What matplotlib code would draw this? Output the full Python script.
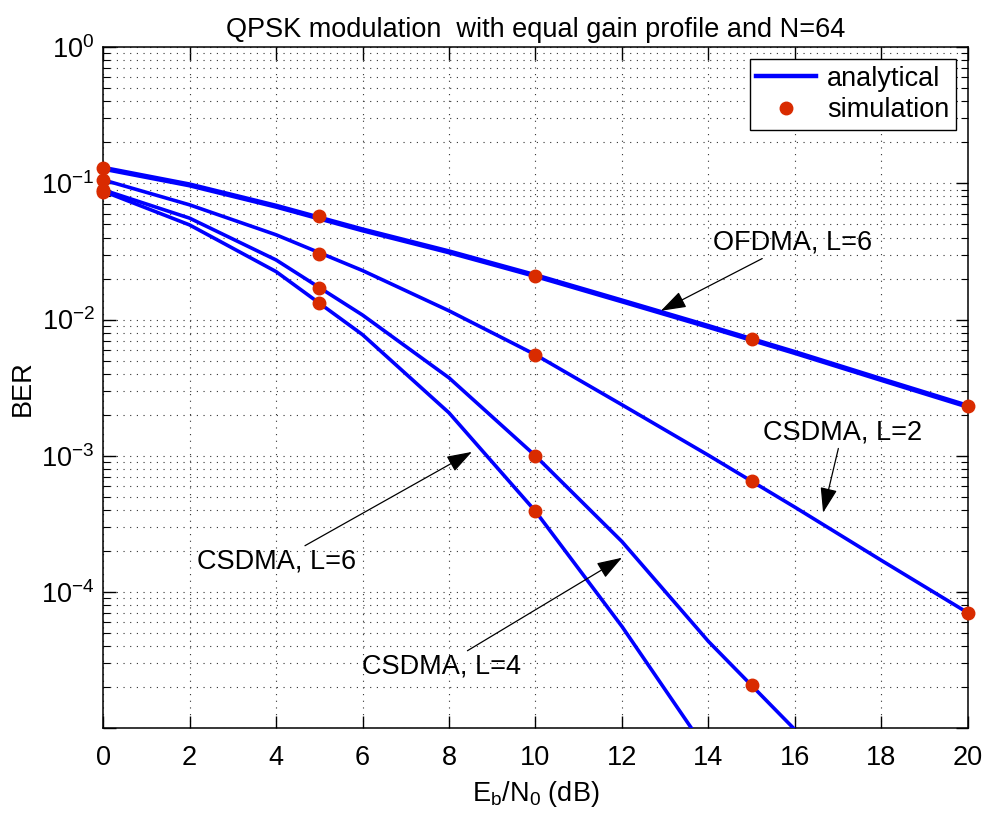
import matplotlib
matplotlib.use("Agg")
import matplotlib.pyplot as plt
from matplotlib.lines import Line2D
from matplotlib.ticker import FixedLocator, LogLocator, NullFormatter, FixedFormatter

plt.rcParams['font.family'] = ['Liberation Sans', 'DejaVu Sans']
plt.rcParams['mathtext.fontset'] = 'custom'
plt.rcParams['mathtext.rm'] = 'Liberation Sans'
plt.rcParams['mathtext.it'] = 'Liberation Sans:italic'

# ---- data ----
x_an = [0, 2, 4, 6, 8, 10, 12, 14, 16, 18, 20]
ofdma_an = [0.129, 0.0973, 0.0679, 0.0455, 0.0314, 0.021, 0.0137, 0.0089, 0.00573, 0.00363, 0.00231]
csdma2_an = [0.106, 0.0695, 0.0419, 0.0229, 0.0116, 0.00552, 0.00237, 0.00101, 0.00042, 0.000171, 0.0000705]
x_an4 = [0, 2, 4, 6, 8, 10, 12, 14, 16]
csdma4_an = [0.0895, 0.0555, 0.0274, 0.0108, 0.00374, 0.00100, 0.000235, 0.0000435, 0.0000098]
x_an6 = [0, 2, 4, 6, 8, 10, 12, 14]
csdma6_an = [0.0875, 0.0495, 0.0225, 0.00775, 0.00207, 0.000392, 0.000056, 0.0000066]

x_sim = [0, 5, 10, 15, 20]
ofdma_sim = [0.129, 0.058, 0.021, 0.0072, 0.00231]
csdma2_sim = [0.106, 0.0305, 0.00552, 0.000658, 0.0000705]
x_sim4 = [0, 5, 10, 15]
csdma4_sim = [0.0895, 0.017, 0.00100, 0.0000207]
x_sim6 = [0, 5, 10]
csdma6_sim = [0.087, 0.0133, 0.000392]

xticks = [0, 2, 4, 6, 8, 10, 12, 14, 16, 18, 20]
yticks = [1e-5, 1e-4, 1e-3, 1e-2, 1e-1, 1e0]
ytick_labels = ['', r'$10^{-4}$', r'$10^{-3}$', r'$10^{-2}$', r'$10^{-1}$', r'$10^{0}$']

blue = '#0000FF'
red = '#D92B00'
FS = 19.5

fig = plt.figure(figsize=(9.85, 8.24), dpi=100)
ax = fig.add_axes([0.1046, 0.1159, 0.8781, 0.8271])

ax.plot(x_an, ofdma_an, color=blue, lw=3.8, zorder=3)
ax.plot(x_an, csdma2_an, color=blue, lw=2.6, zorder=3)
ax.plot(x_an4, csdma4_an, color=blue, lw=2.6, zorder=3)
ax.plot(x_an6, csdma6_an, color=blue, lw=2.6, zorder=3)

mk = dict(ls='none', marker='o', ms=9, color=red, mec=red, clip_on=False, zorder=5)
ax.plot(x_sim, ofdma_sim, **mk)
ax.plot(x_sim, csdma2_sim, **mk)
ax.plot(x_sim4, csdma4_sim, **mk)
ax.plot(x_sim6, csdma6_sim, **mk)

ax.set_yscale('log')
ax.set_xlim(0, 20)
ax.set_ylim(1e-5, 1)
ax.xaxis.set_major_locator(FixedLocator(xticks))
ax.yaxis.set_major_locator(FixedLocator(yticks))
ax.yaxis.set_major_formatter(FixedFormatter(ytick_labels))
ax.yaxis.set_minor_locator(LogLocator(base=10, subs=range(2, 10), numticks=20))
ax.yaxis.set_minor_formatter(NullFormatter())

ax.tick_params(which='both', direction='in', top=True, right=True, labelsize=FS)
ax.tick_params(which='major', length=9, width=1.0)
ax.tick_params(which='minor', length=5, width=0.8)
ax.tick_params(axis='y', which='major', pad=6)
ax.tick_params(axis='x', which='major', pad=12)
for s in ax.spines.values():
    s.set_linewidth(1.1)

gkw = dict(color='#333333', linestyle=(0, (1, 5)), linewidth=0.8)
ax.grid(True, which='major', axis='both', **gkw)
ax.grid(True, which='minor', axis='y', **gkw)
ax.set_axisbelow(True)

ax.set_title('QPSK modulation  with equal gain profile and N=64', fontsize=FS, pad=7)
ax.set_xlabel(r'E$_\mathrm{b}$/N$_\mathrm{0}$ (dB)', fontsize=FS, labelpad=6)
ax.set_ylabel('BER', fontsize=FS, labelpad=4)

handles = [Line2D([], [], color=blue, lw=3.2),
           Line2D([], [], ls='none', marker='o', ms=9, color=red)]
leg = ax.legend(handles, ['analytical', 'simulation'], loc='upper right', fontsize=FS,
                frameon=True, fancybox=False, edgecolor='black', framealpha=1,
                borderaxespad=0.45, handlelength=2.2, handletextpad=0.4,
                borderpad=0.25, labelspacing=0.2)
leg.get_frame().set_linewidth(1.0)

apr = dict(arrowstyle='-|>,head_length=0.8,head_width=0.27', color='black', lw=0.9,
           shrinkA=0, shrinkB=0)
ax.annotate('OFDMA, L=6', xy=(12.9, 0.0116), xytext=(15.95, 0.0366), fontsize=FS,
            ha='center', va='center', arrowprops=apr, zorder=6)
ax.annotate('CSDMA, L=2', xy=(16.65, 3.83e-4), xytext=(17.09, 1.48e-3), fontsize=FS,
            ha='center', va='center', arrowprops=apr, zorder=6)
ax.annotate('CSDMA, L=6', xy=(8.53, 1.07e-3), xytext=(4.02, 1.68e-4), fontsize=FS,
            ha='center', va='center', arrowprops=apr, zorder=6)
ax.annotate('CSDMA, L=4', xy=(12.0, 1.79e-4), xytext=(7.82, 2.85e-5), fontsize=FS,
            ha='center', va='center', arrowprops=apr, zorder=6)

fig.savefig('out.png', dpi=100)
